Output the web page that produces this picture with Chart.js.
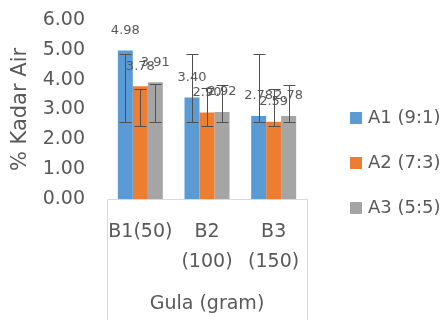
<!DOCTYPE html>
<html>
<head>
<meta charset="utf-8">
<script src="https://cdn.jsdelivr.net/npm/chart.js@4/dist/chart.umd.min.js"></script>
<style>
  html, body { margin: 0; padding: 0; background: #ffffff; }
  #wrap { width: 444px; height: 320px; }
</style>
</head>
<body>
<div id="wrap"><canvas id="c" width="444" height="320"></canvas></div>
<script>
const categories = [["B1(50)"], ["B2", "(100)"], ["B3", "(150)"]];
const seriesNames = ["A1 (9:1)", "A2 (7:3)", "A3 (5:5)"];
const seriesColors = ["#5B9BD5", "#ED7D31", "#A5A5A5"];
const valuesA1 = [4.98, 3.40, 2.78];
const valuesA2 = [3.78, 2.90, 2.59];
const valuesA3 = [3.91, 2.92, 2.78];
const errLowA1 = [2.58, 2.58, 2.58];
const errHighA1 = [4.87, 4.87, 4.87];
const errLowA2 = [2.44, 2.44, 2.44];
const errHighA2 = [3.70, 3.72, 3.70];
const errLowA3 = [2.58, 2.58, 2.58];
const errHighA3 = [3.85, 3.83, 3.83];
const yTicks = [0, 1, 2, 3, 4, 5, 6];

const FONT = "'DejaVu Sans', sans-serif";
const TEXT = "#595959";

const errorBars = {
  id: 'errorBars',
  afterDatasetsDraw(chart) {
    const ctx = chart.ctx;
    const y = chart.scales.y;
    ctx.save();
    ctx.strokeStyle = '#505050';
    ctx.lineWidth = 1;
    chart.data.datasets.forEach((ds, di) => {
      const meta = chart.getDatasetMeta(di);
      meta.data.forEach((bar, i) => {
        const x = Math.round(bar.x) + 0.5;
        const yl = Math.round(y.getPixelForValue(ds.errLow[i])) + 0.5;
        const yh = Math.round(y.getPixelForValue(ds.errHigh[i])) + 0.5;
        ctx.beginPath();
        ctx.moveTo(x, yl); ctx.lineTo(x, yh);
        ctx.moveTo(x - 6, yl); ctx.lineTo(x + 6, yl);
        ctx.moveTo(x - 6, yh); ctx.lineTo(x + 6, yh);
        ctx.stroke();
      });
    });
    ctx.restore();
  }
};

const dataLabels = {
  id: 'dataLabels',
  afterDraw(chart) {
    const ctx = chart.ctx;
    ctx.save();
    ctx.font = "13px " + FONT;
    ctx.fillStyle = TEXT;
    ctx.textAlign = 'center';
    ctx.textBaseline = 'middle';
    chart.data.datasets.forEach((ds, di) => {
      const meta = chart.getDatasetMeta(di);
      meta.data.forEach((bar, i) => {
        ctx.fillText(ds.data[i].toFixed(2), bar.x, bar.y - 20);
      });
    });
    ctx.restore();
  }
};

const axisBox = {
  id: 'axisBox',
  beforeDatasetsDraw(chart) {
    const ctx = chart.ctx;
    const a = chart.chartArea;
    ctx.save();
    ctx.strokeStyle = '#D9D9D9';
    ctx.lineWidth = 1;
    ctx.beginPath();
    const b = Math.round(a.bottom) + 0.5;
    const l = Math.round(a.left) + 0.5;
    const r = Math.round(a.right) + 0.5;
    ctx.moveTo(l, chart.height); ctx.lineTo(l, b); ctx.lineTo(r, b); ctx.lineTo(r, chart.height);
    ctx.stroke();
    ctx.restore();
  }
};

const customLegend = {
  id: 'customLegend',
  afterDraw(chart) {
    const ctx = chart.ctx;
    ctx.save();
    ctx.font = "18px " + FONT;
    ctx.textBaseline = 'middle';
    ctx.textAlign = 'left';
    chart.data.datasets.forEach((ds, di) => {
      const cy = 118 + di * 45;
      ctx.fillStyle = ds.backgroundColor;
      ctx.fillRect(350, cy - 6, 12, 12);
      ctx.fillStyle = TEXT;
      ctx.fillText(ds.label, 368, cy);
    });
    ctx.restore();
  }
};

const allValues = [valuesA1, valuesA2, valuesA3];
const allLow = [errLowA1, errLowA2, errLowA3];
const allHigh = [errHighA1, errHighA2, errHighA3];

new Chart(document.getElementById('c'), {
  type: 'bar',
  data: {
    labels: categories,
    datasets: seriesNames.map((name, i) => ({
      label: name,
      data: allValues[i],
      errLow: allLow[i],
      errHigh: allHigh[i],
      backgroundColor: seriesColors[i],
      borderWidth: 0,
      categoryPercentage: 0.675,
      barPercentage: 1.0
    }))
  },
  options: {
    responsive: false,
    animation: false,
    devicePixelRatio: 1,
    layout: { padding: { top: 20, right: 137, bottom: 0, left: 0 } },
    plugins: {
      legend: { display: false },
      tooltip: { enabled: false }
    },
    scales: {
      x: {
        grid: { display: false, drawTicks: false },
        border: { display: false },
        ticks: {
          color: TEXT,
          font: { family: FONT, size: 19, lineHeight: 1.53 },
          padding: 19,
          maxRotation: 0,
          autoSkip: false
        },
        title: {
          display: true,
          text: 'Gula (gram)',
          color: TEXT,
          font: { family: FONT, size: 19 },
          padding: { top: 0, bottom: 5 }
        },
        afterFit(scale) { scale.height = 121; }
      },
      y: {
        min: 0,
        max: 6,
        grid: { display: false, drawTicks: false },
        border: { display: false },
        afterBuildTicks(scale) { scale.ticks = yTicks.map(v => ({ value: v })); },
        ticks: {
          color: TEXT,
          font: { family: FONT, size: 19 },
          padding: 22,
          callback: (v) => Number(v).toFixed(2)
        },
        title: {
          display: true,
          text: '% Kadar Air',
          color: TEXT,
          font: { family: FONT, size: 21 },
          padding: { top: 8, bottom: 0 }
        },
        afterFit(scale) {
          scale.width = 107;
          scale.paddingTop = 11;
          scale.paddingBottom = 11;
        }
      }
    }
  },
  plugins: [axisBox, errorBars, dataLabels, customLegend]
});
</script>
</body>
</html>
